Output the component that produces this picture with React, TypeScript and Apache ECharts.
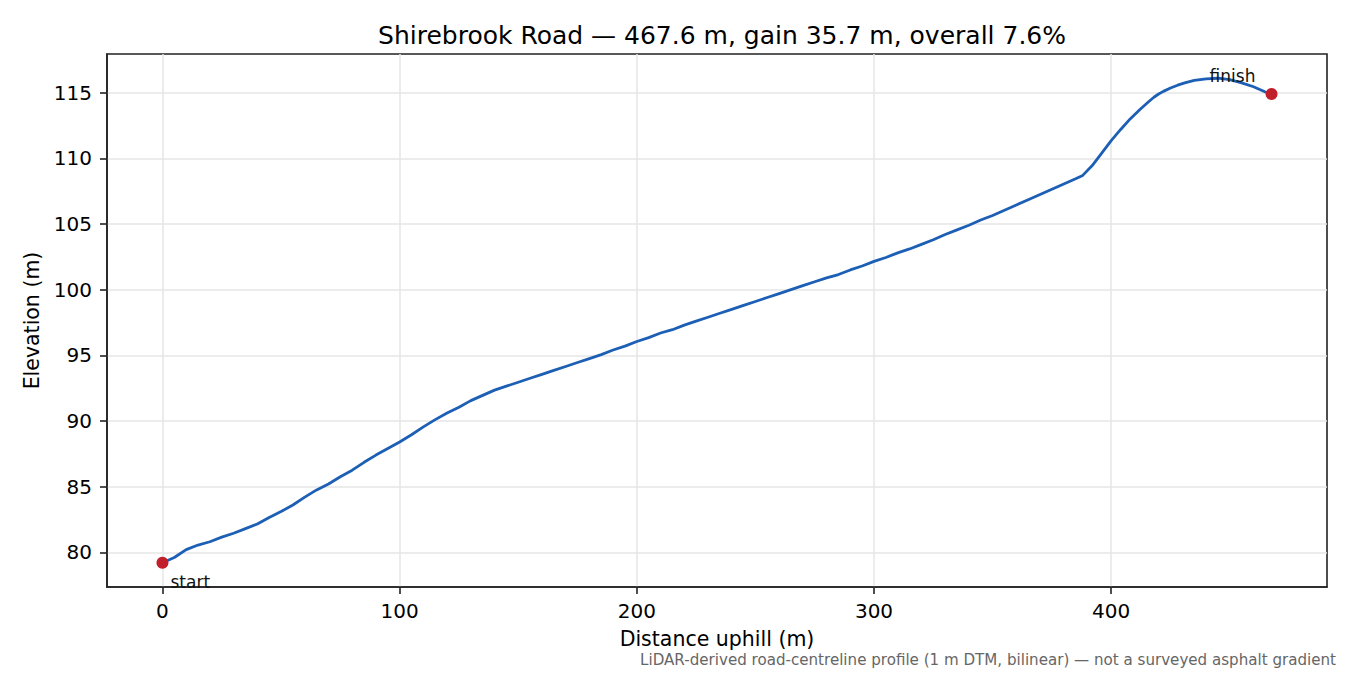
import { useEffect, useRef } from 'react';
import * as echarts from 'echarts';

// Profile: distance uphill (m) and elevation (m)
const distance = [
  0, 5, 10, 15, 20, 25, 30, 35, 40, 45, 50, 55, 60, 65, 70, 75, 80, 85, 90, 95,
  100, 105, 110, 115, 120, 125, 130, 135, 140, 145, 150, 155, 160, 165, 170, 175,
  180, 185, 190, 195, 200, 205, 210, 215, 220, 225, 230, 235, 240, 245, 250, 255,
  260, 265, 270, 275, 280, 285, 290, 295, 300, 305, 310, 315, 320, 325, 330, 335,
  340, 345, 350, 355, 360, 365, 370, 375, 380, 385, 388, 392, 396, 400, 404, 408,
  412, 416, 418, 420, 422, 425, 428, 431, 435, 440, 445, 450, 455, 460, 465, 467.6,
];
const elevation = [
  79.2, 79.6, 80.2, 80.55, 80.8, 81.15, 81.45, 81.8, 82.15, 82.65, 83.1, 83.6,
  84.2, 84.75, 85.2, 85.75, 86.25, 86.85, 87.4, 87.9, 88.4, 88.95, 89.55, 90.1,
  90.6, 91.05, 91.55, 91.95, 92.35, 92.65, 92.95, 93.25, 93.55, 93.85, 94.15,
  94.45, 94.75, 95.05, 95.4, 95.7, 96.05, 96.35, 96.7, 96.95, 97.3, 97.6, 97.9,
  98.2, 98.5, 98.8, 99.1, 99.4, 99.7, 100.0, 100.3, 100.6, 100.9, 101.15, 101.5,
  101.8, 102.15, 102.45, 102.8, 103.1, 103.45, 103.8, 104.2, 104.55, 104.9, 105.3,
  105.65, 106.05, 106.45, 106.85, 107.25, 107.65, 108.05, 108.45, 108.7, 109.45,
  110.4, 111.35, 112.2, 113.0, 113.7, 114.35, 114.65, 114.9, 115.1, 115.35, 115.57,
  115.75, 115.93, 116.05, 116.1, 116.0, 115.75, 115.45, 115.05, 114.9,
];

const endpointNames = ['start', 'finish'];
const endpointDistance = [0, 467.6];
const endpointElevation = [79.2, 114.9];

const xTicks = [0, 100, 200, 300, 400];
const yTicks = [80, 85, 90, 95, 100, 105, 110, 115];

const TITLE = 'Shirebrook Road — 467.6 m, gain 35.7 m, overall 7.6%';
const X_NAME = 'Distance uphill (m)';
const Y_NAME = 'Elevation (m)';
const NOTE =
  'LiDAR-derived road-centreline profile (1 m DTM, bilinear) — not a surveyed asphalt gradient';

const FONT = "'DejaVu Sans', sans-serif";
const INK = '#222';
const LINE_COLOR = '#1c5fb5';
const DOT_COLOR = '#c01f2b';

export default function App() {
  const chartRef = useRef<HTMLDivElement>(null);

  useEffect(() => {
    if (!chartRef.current) return;
    const chart = echarts.init(chartRef.current, undefined, { renderer: 'svg' });

    // matplotlib-style 5% margins around the data
    const xPad = (distance[distance.length - 1] - distance[0]) * 0.05;
    const yLo = Math.min(...elevation);
    const yHi = Math.max(...elevation);
    const yPad = (yHi - yLo) * 0.05;

    const labelOffsets: Record<string, { offset: number[]; align: string }> = {
      start: { offset: [8, 19], align: 'left' },
      finish: { offset: [-39, -18], align: 'center' },
    };

    const option: echarts.EChartsOption = {
      animation: false,
      textStyle: { fontFamily: FONT },
      title: {
        text: TITLE,
        left: 717,
        top: 18,
        textAlign: 'center',
        textStyle: { fontFamily: FONT, fontSize: 25, fontWeight: 'normal', color: '#000' },
      },
      grid: {
        left: 107,
        top: 54,
        width: 1220,
        height: 533,
        show: true,
        borderColor: INK,
        borderWidth: 1.6,
        backgroundColor: '#fff',
      },
      xAxis: {
        type: 'value',
        min: distance[0] - xPad,
        max: distance[distance.length - 1] + xPad,
        splitNumber: 5,
        name: X_NAME,
        nameLocation: 'middle',
        nameGap: 42,
        nameTextStyle: { fontFamily: FONT, fontSize: 20.5, lineHeight: 20, color: '#000' },
        axisLine: { show: true, onZero: false, lineStyle: { color: INK, width: 1.6 } },
        axisTick: {
          show: true,
          length: 7,
          customValues: xTicks,
          lineStyle: { color: INK, width: 1.6 },
        },
        axisLabel: {
          customValues: xTicks,
          margin: 14,
          fontFamily: FONT,
          fontSize: 20,
          color: '#000',
        },
        splitLine: { show: true, lineStyle: { color: '#e6e6e6', width: 1.5 } },
      },
      yAxis: {
        type: 'value',
        min: yLo - yPad,
        max: yHi + yPad,
        splitNumber: 8,
        name: Y_NAME,
        nameLocation: 'middle',
        nameGap: 62,
        nameTextStyle: { fontFamily: FONT, fontSize: 20.5, color: '#000' },
        axisLine: { show: true, onZero: false, lineStyle: { color: INK, width: 1.6 } },
        axisTick: {
          show: true,
          length: 7,
          customValues: yTicks,
          lineStyle: { color: INK, width: 1.6 },
        },
        axisLabel: {
          customValues: yTicks,
          margin: 15,
          fontFamily: FONT,
          fontSize: 20,
          color: '#000',
        },
        splitLine: { show: true, lineStyle: { color: '#e6e6e6', width: 1.5 } },
      },
      series: [
        {
          type: 'line',
          data: distance.map((d, i) => [d, elevation[i]]),
          showSymbol: false,
          symbol: 'none',
          lineStyle: { color: LINE_COLOR, width: 2.8 },
          z: 2,
        },
        {
          type: 'scatter',
          symbolSize: 12,
          itemStyle: { color: DOT_COLOR, opacity: 1 },
          z: 3,
          data: endpointNames.map((name, i) => ({
            name,
            value: [endpointDistance[i], endpointElevation[i]],
            label: {
              show: true,
              formatter: name,
              position: 'inside',
              offset: labelOffsets[name].offset,
              align: labelOffsets[name].align as any,
              verticalAlign: 'middle',
              fontFamily: FONT,
              fontSize: 17,
              color: '#111',
            },
          })),
        },
      ],
      graphic: [
        {
          type: 'text',
          right: 14,
          top: 652,
          style: {
            text: NOTE,
            fontFamily: FONT,
            fontSize: 15.1,
            lineHeight: 15,
            fill: '#666',
          },
        },
      ],
    };

    chart.setOption(option);
    return () => {
      chart.dispose();
    };
  }, []);

  return (
    <div
      ref={chartRef}
      style={{ position: 'fixed', left: 0, top: 0, width: 1350, height: 675, background: '#fff' }}
    />
  );
}
